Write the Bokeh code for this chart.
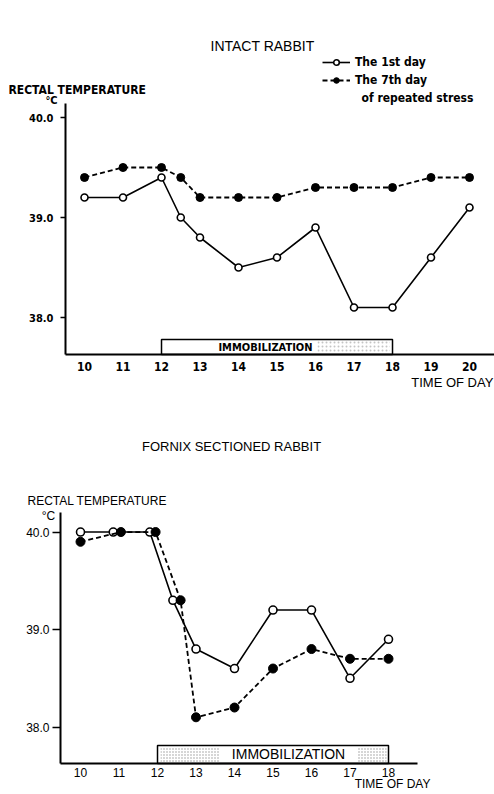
from bokeh.plotting import figure
from bokeh.models import Range1d, FixedTicker, PrintfTickFormatter, Label, Legend, LegendItem
from bokeh.layouts import column
from bokeh.embed import file_html
from bokeh.resources import INLINE

# ---------------- data ----------------
top_hours = [10, 11, 12, 12.5, 13, 14, 15, 16, 17, 18, 19, 20]
top_temp_1st = [39.2, 39.2, 39.4, 39.0, 38.8, 38.5, 38.6, 38.9, 38.1, 38.1, 38.6, 39.1]
top_temp_7th = [39.4, 39.5, 39.5, 39.4, 39.2, 39.2, 39.2, 39.3, 39.3, 39.3, 39.4, 39.4]
top_ticks = [10, 11, 12, 13, 14, 15, 16, 17, 18, 19, 20]

bot_hours_1st = [10, 10.85, 11.8, 12.4, 13, 14, 15, 16, 17, 18]
bot_temp_1st = [40.0, 40.0, 40.0, 39.3, 38.8, 38.6, 39.2, 39.2, 38.5, 38.9]
bot_hours_7th = [10, 11.05, 11.95, 12.6, 13, 14, 15, 16, 17, 18]
bot_temp_7th = [39.9, 40.0, 40.0, 39.3, 38.1, 38.2, 38.6, 38.8, 38.7, 38.7]
bot_ticks = [10, 11, 12, 13, 14, 15, 16, 17, 18]

y_ticks = [38.0, 39.0, 40.0]
immob_start, immob_end = 12, 18

NARROW = "DejaVu Sans Condensed, Liberation Sans, sans-serif"
SANS = "Liberation Sans"


def base(height, xr, yr, y_axis_at, x_axis_at, x_bounds, y_bounds):
    p = figure(width=494, height=height, x_range=Range1d(*xr), y_range=Range1d(*yr),
               output_backend="svg", toolbar_location=None, title=None,
               min_border=0, min_border_left=0, min_border_right=0,
               min_border_top=0, min_border_bottom=0)
    p.outline_line_color = None
    p.grid.visible = False
    for ax in (p.xaxis[0], p.yaxis[0]):
        ax.axis_line_width = 2
        ax.axis_line_color = "black"
        ax.minor_tick_line_color = None
        ax.major_label_text_color = "black"
    xa, ya = p.xaxis[0], p.yaxis[0]
    ya.ticker = FixedTicker(ticks=y_ticks)
    ya.formatter = PrintfTickFormatter(format="%.1f")
    ya.fixed_location = y_axis_at
    ya.bounds = y_bounds
    xa.fixed_location = x_axis_at
    xa.bounds = x_bounds
    xa.major_tick_out = 0
    xa.major_tick_in = 0
    ya.major_tick_in = 0
    ya.major_tick_line_width = 1.5
    return p


def add_labels(p, specs):
    for txt, x, y, font, size, style, align in specs:
        p.add_layout(Label(x=x, y=y, text=txt, text_font=font, text_font_size=size,
                           text_font_style=style, text_align=align, text_baseline="middle",
                           text_color="black"))


# ---------------- top: intact rabbit ----------------
p1 = base(420, (7.818, 20.649), (36.97, 41.17), 9.506, 37.63, (9.506, 20.649), (37.63, 40.14))
xa, ya = p1.xaxis[0], p1.yaxis[0]
xa.ticker = FixedTicker(ticks=top_ticks)
xa.major_label_text_font = NARROW
xa.major_label_text_font_style = "bold"
xa.major_label_text_font_size = "12px"
xa.major_label_standoff = 7
ya.major_label_text_font = NARROW
ya.major_label_text_font_style = "bold"
ya.major_label_text_font_size = "11px"
ya.major_tick_out = 5
ya.major_label_standoff = 7

p1.quad(left=[immob_start], right=[immob_end], bottom=[37.63], top=[37.78],
        fill_color="white", line_color="black", line_width=1.5)
p1.quad(left=[16.05], right=[17.93], bottom=[37.645], top=[37.765], fill_color="white",
        line_color=None, hatch_pattern="dot", hatch_color="#c4c4c4", hatch_scale=4)

l1 = p1.line(top_hours, top_temp_1st, line_color="black", line_width=1.6)
s1 = p1.scatter(top_hours, top_temp_1st, marker="circle", size=7, fill_color="white",
                line_color="black", line_width=1.6)
l2 = p1.line(top_hours, top_temp_7th, line_color="black", line_width=1.8, line_dash="5 3")
s2 = p1.scatter(top_hours, top_temp_7th, marker="circle", size=8, fill_color="black",
                line_color="black")

leg = Legend(items=[LegendItem(label="The 1st day", renderers=[l1, s1]),
                    LegendItem(label="The 7th day", renderers=[l2, s2])],
             location=(322, 333), glyph_width=28, glyph_height=14, label_height=14,
             label_standoff=5, spacing=4, padding=0, margin=0, border_line_color=None,
             background_fill_alpha=0, label_text_font=NARROW, label_text_font_style="bold",
             label_text_font_size="12px", label_text_color="black")
p1.add_layout(leg)

add_labels(p1, [
    ("INTACT RABBIT", 14.623, 40.72, SANS, "14px", "normal", "center"),
    ("RECTAL TEMPERATURE", 8.026, 40.28, NARROW, "12px", "bold", "left"),
    ("°C", 9.143, 40.17, NARROW, "11px", "bold", "center"),
    ("of repeated stress", 17.195, 40.20, NARROW, "12px", "bold", "left"),
    ("IMMOBILIZATION", 14.70, 37.70, NARROW, "11px", "bold", "center"),
    ("TIME OF DAY", 20.62, 37.35, SANS, "13px", "normal", "right"),
])

# ---------------- bottom: fornix sectioned rabbit ----------------
p2 = base(374, (7.922, 20.753), (37.308, 41.144), 9.481, 37.626, (9.481, 18.753), (37.626, 40.2))
xa, ya = p2.xaxis[0], p2.yaxis[0]
xa.ticker = FixedTicker(ticks=bot_ticks)
xa.major_label_text_font = SANS
xa.major_label_text_font_size = "12px"
xa.major_label_standoff = 5
ya.major_label_text_font = SANS
ya.major_label_text_font_size = "12px"
ya.major_tick_out = 8
ya.major_label_standoff = 3

p2.quad(left=[immob_start], right=[immob_end], bottom=[37.626], top=[37.81],
        fill_color="white", line_color="black", line_width=1.5)
p2.quad(left=[12.08, 17.2], right=[13.6, 17.95], bottom=[37.64, 37.64], top=[37.795, 37.795],
        fill_color="white", line_color=None, hatch_pattern="dot", hatch_color="#999999",
        hatch_scale=3)

p2.line(bot_hours_1st, bot_temp_1st, line_color="black", line_width=1.6)
p2.scatter(bot_hours_1st, bot_temp_1st, marker="circle", size=8, fill_color="white",
           line_color="black", line_width=1.6)
p2.line(bot_hours_7th, bot_temp_7th, line_color="black", line_width=1.8, line_dash="5 3")
p2.scatter(bot_hours_7th, bot_temp_7th, marker="circle", size=9, fill_color="black",
           line_color="black")

add_labels(p2, [
    ("FORNIX SECTIONED RABBIT", 13.922, 40.877, SANS, "13px", "normal", "center"),
    ("RECTAL TEMPERATURE", 8.623, 40.323, SANS, "12px", "normal", "left"),
    ("°C", 9.169, 40.169, SANS, "12px", "normal", "center"),
    ("IMMOBILIZATION", 15.403, 37.728, SANS, "14px", "normal", "center"),
    ("TIME OF DAY", 19.09, 37.42, SANS, "12px", "normal", "right"),
])

layout = column(p1, p2, spacing=0)
open("out.html", "w").write(file_html(layout, INLINE))
